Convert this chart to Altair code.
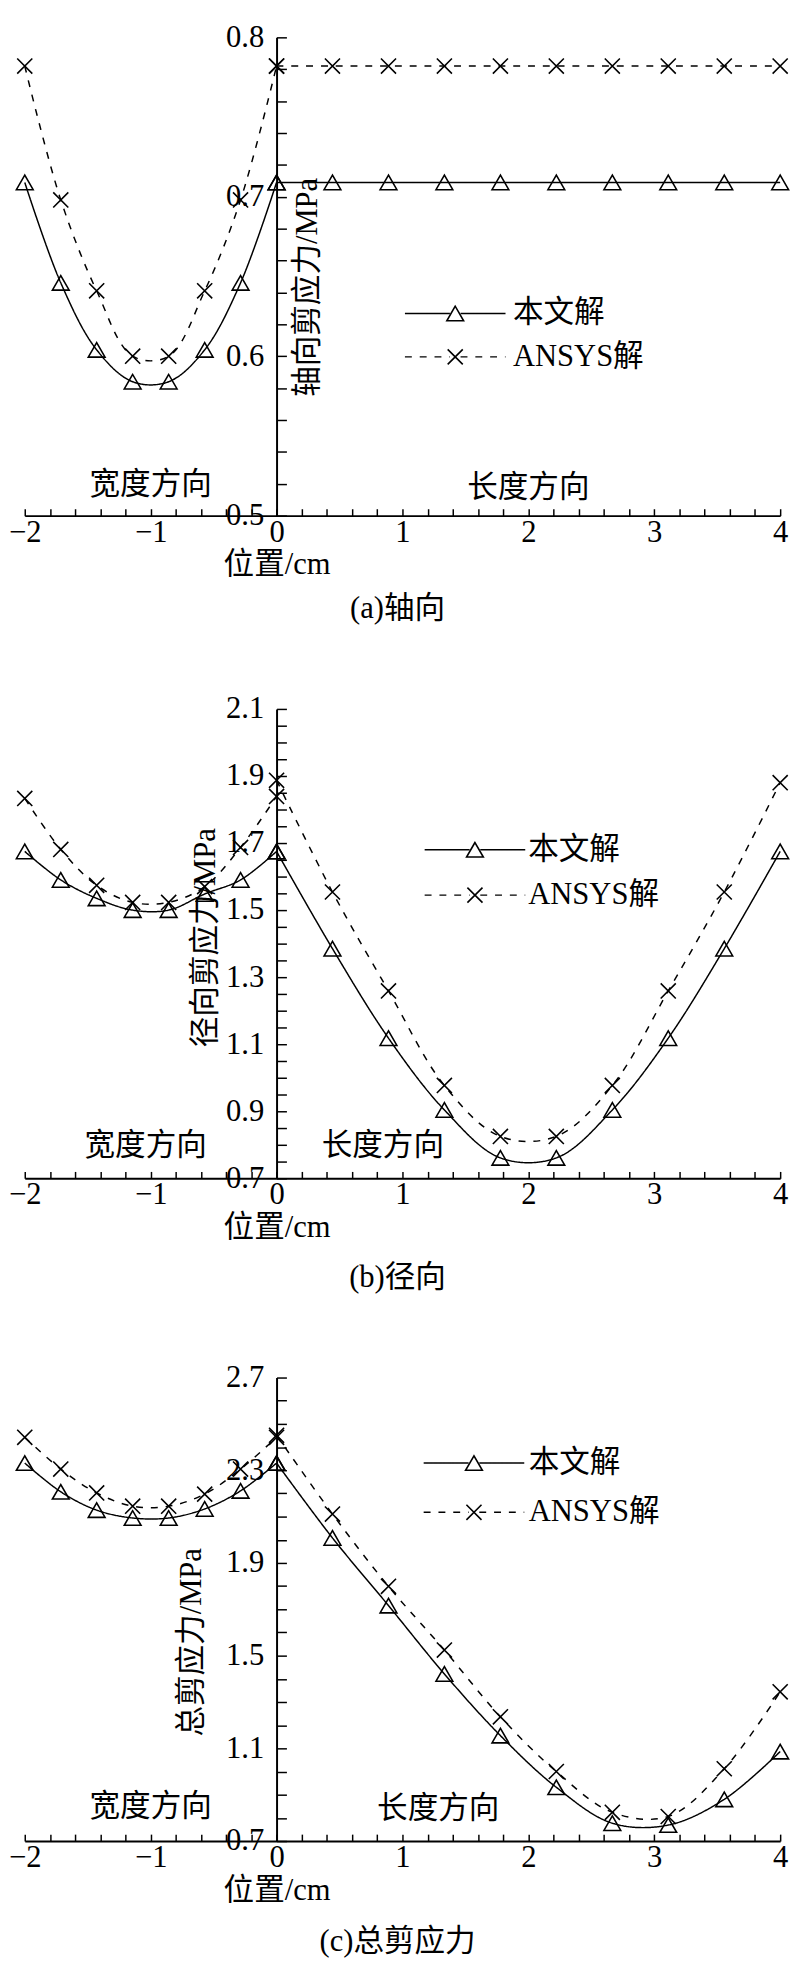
import altair as alt
import pandas as pd

FONT = "'Liberation Serif', 'Times New Roman', 'Noto Sans CJK SC', serif"
FS = 31
SERIES = ["本文解", "ANSYS解"]
# marker legend uses distinct keys so it is not merged with the line legend
MARKER_KEYS = ["本文解 ", "ANSYS解 "]

# positions along the two directions (cm)
X_WIDTH = [-2.0, -1.714, -1.429, -1.143, -0.857, -0.571, -0.286, 0.0]
X_LENGTH = [0.0, 0.444, 0.889, 1.333, 1.778, 2.222, 2.667, 3.111, 3.556, 4.0]

# (a) axial shear stress
A_OURS_W = [0.709, 0.646, 0.604, 0.584, 0.584, 0.604, 0.646, 0.709]
A_ANSYS_W = [0.782, 0.698, 0.641, 0.600, 0.600, 0.641, 0.698, 0.782]
A_OURS_L = [0.709, 0.709, 0.709, 0.709, 0.709, 0.709, 0.709, 0.709, 0.709, 0.709]
A_ANSYS_L = [0.782, 0.782, 0.782, 0.782, 0.782, 0.782, 0.782, 0.782, 0.782, 0.782]

# (b) radial shear stress
B_OURS_W = [1.675, 1.590, 1.535, 1.500, 1.500, 1.548, 1.590, 1.675]
B_ANSYS_W = [1.833, 1.681, 1.574, 1.523, 1.523, 1.570, 1.687, 1.839]
B_OURS_L = [1.675, 1.385, 1.118, 0.904, 0.761, 0.761, 0.904, 1.118, 1.385, 1.675]
B_ANSYS_L = [1.887, 1.554, 1.259, 0.977, 0.825, 0.825, 0.977, 1.259, 1.554, 1.880]

# (c) total shear stress
C_OURS_W = [2.331, 2.207, 2.128, 2.094, 2.094, 2.133, 2.211, 2.331]
C_ANSYS_W = [2.442, 2.305, 2.202, 2.145, 2.145, 2.197, 2.305, 2.442]
C_OURS_L = [2.331, 2.008, 1.716, 1.421, 1.155, 0.932, 0.777, 0.769, 0.880, 1.086]
C_ANSYS_L = [2.451, 2.111, 1.799, 1.524, 1.236, 1.000, 0.824, 0.806, 1.012, 1.344]

# tick labels
X_TICK_LABELS = [-2, -1, 0, 1, 2, 3, 4]
X_MINOR = [round(-2 + 0.2 * i, 1) for i in range(31)]
A_Y_LABELS = [0.5, 0.6, 0.7, 0.8]
B_Y_LABELS = [0.7, 0.9, 1.1, 1.3, 1.5, 1.7, 1.9, 2.1]
C_Y_LABELS = [0.7, 1.1, 1.5, 1.9, 2.3, 2.7]
A_Y_MINOR = [round(0.5 + 0.02 * i, 2) for i in range(16)]
B_Y_MINOR = [round(0.7 + 0.05 * i, 2) for i in range(29)]
C_Y_MINOR = [round(0.7 + 0.1 * i, 1) for i in range(21)]

# annotations
NOTE_TEXT = ["宽度方向", "长度方向"]
A_NOTE_X = [-1.0, 2.0]
A_NOTE_Y = [0.519, 0.517]
B_NOTE_X = [-1.04, 0.844]
B_NOTE_Y = [0.795, 0.795]
C_NOTE_X = [-1.0, 1.284]
C_NOTE_Y = [0.846, 0.837]

W = 766
X0 = W * 2 / 6
XPATH = "M-0.9,-0.9L0.9,0.9M0.9,-0.9L-0.9,0.9"
LEG_PATH = "M-8.5,0H-0.9M0.9,0H8.5"


def panel(ow, aw, ol, al, ydom, ylabels, yminor, ytitle, tdx, tdy, H,
          notes_x, notes_y, legx, legy, rowpad, laboff, caption, capoff):
    rows = []
    for seg, xs, yo, ya in (("W", X_WIDTH, ow, aw), ("L", X_LENGTH, ol, al)):
        for x, a, b in zip(xs, yo, ya):
            rows.append({"x": x, "y": a, "s": SERIES[0], "m": MARKER_KEYS[0], "seg": seg})
            rows.append({"x": x, "y": b, "s": SERIES[1], "m": MARKER_KEYS[1], "seg": seg})
    df = pd.DataFrame(rows)
    ndf = pd.DataFrame({"x": notes_x, "y": notes_y, "t": NOTE_TEXT})

    xscale = alt.Scale(domain=[-2, 4], nice=False, zero=False)
    yscale = alt.Scale(domain=ydom, nice=False, zero=False)

    x_label_axis = alt.Axis(
        orient="bottom", values=X_TICK_LABELS, format="d", ticks=False, tickSize=0,
        domain=False, grid=False, labelPadding=2, labelFlush=False, labelOverlap=False,
        title="位置/cm", titleX=X0, titleY=50, titleAlign="center", titleBaseline="middle",
    )
    x_tick_axis = alt.Axis(
        orient="top", offset=-H, values=X_MINOR, labels=False, ticks=True, tickSize=7,
        domain=True, grid=False, title=None,
    )
    y_label_axis = alt.Axis(
        orient="left", offset=-X0, values=ylabels, format=".1f", ticks=False, tickSize=0,
        domain=False, grid=False, labelPadding=13, labelFlush=False, labelOverlap=False,
        title=ytitle, titleX=tdx, titleY=tdy, titleAngle=270, titleAlign="center",
        titleBaseline="middle",
    )
    y_tick_axis = alt.Axis(
        orient="right", offset=-(W - X0), values=yminor, labels=False, ticks=True,
        tickSize=10, domain=True, grid=False, title=None,
    )

    leg_a = alt.Legend(
        orient="none", legendX=legx, legendY=legy, title=None, padding=0,
        symbolType=LEG_PATH, symbolSize=144, symbolStrokeWidth=1.5,
        symbolStrokeColor="black", symbolFillColor="transparent",
        labelFontSize=FS, labelOffset=laboff, rowPadding=rowpad,
    )
    leg_b = alt.Legend(
        orient="none", legendX=legx, legendY=legy, title=None, padding=0,
        symbolSize=289, symbolStrokeWidth=1.6, symbolStrokeColor="black",
        symbolFillColor="transparent", labelFontSize=FS, labelOffset=laboff,
        rowPadding=rowpad, labelOpacity=0,
    )

    line = alt.Chart(df).mark_line(interpolate="catmull-rom", strokeWidth=1.5, color="black").encode(
        x=alt.X("x:Q", scale=xscale, axis=x_label_axis),
        y=alt.Y("y:Q", scale=yscale, axis=y_label_axis),
        strokeDash=alt.StrokeDash("s:N", scale=alt.Scale(domain=SERIES, range=[[1, 0], [7, 8]]), legend=leg_a),
        detail="seg:N",
    )
    pts = alt.Chart(df).mark_point(filled=False, size=289, strokeWidth=1.6, color="black", opacity=1).encode(
        x=alt.X("x:Q", scale=xscale, axis=x_tick_axis),
        y=alt.Y("y:Q", scale=yscale, axis=y_tick_axis),
        shape=alt.Shape("m:N", scale=alt.Scale(domain=MARKER_KEYS, range=["triangle-up", XPATH]), legend=leg_b),
    )
    notes = alt.Chart(ndf).mark_text(font=FONT, fontSize=FS, color="black").encode(
        x=alt.X("x:Q", scale=xscale, axis=None),
        y=alt.Y("y:Q", scale=yscale, axis=None),
        text="t:N",
    )
    return alt.layer(line, pts, notes).resolve_axis(x="independent", y="independent").properties(
        width=W, height=H,
        title=alt.TitleParams(text=caption, orient="bottom", anchor="middle", frame="group",
                              offset=capoff, dx=-5, font=FONT, fontSize=FS,
                              fontWeight="normal", color="black"),
    )


pa = panel(A_OURS_W, A_ANSYS_W, A_OURS_L, A_ANSYS_L, [0.5, 0.8], A_Y_LABELS, A_Y_MINOR,
           "轴向剪应力/MPa", 31, 253, 485, A_NOTE_X, A_NOTE_Y, 421, 264.5, 12, 43, "(a)轴向", 15)
pb = panel(B_OURS_W, B_ANSYS_W, B_OURS_L, B_ANSYS_L, [0.7, 2.1], B_Y_LABELS, B_Y_MINOR,
           "径向剪应力/MPa", -72, 231.5, 476, B_NOTE_X, B_NOTE_Y, 441, 127.3, 14, 38.5, "(b)径向", 21)
pc = panel(C_OURS_W, C_ANSYS_W, C_OURS_L, C_ANSYS_L, [0.7, 2.7], C_Y_LABELS, C_Y_MINOR,
           "总剪应力/MPa", -86.5, 268, 470, C_NOTE_X, C_NOTE_Y, 440, 71.2, 18, 40, "(c)总剪应力", 22)

chart = alt.vconcat(pa, pb, pc, spacing=70).resolve_scale(
    x="independent", y="independent", strokeDash="independent", shape="independent"
).resolve_legend(strokeDash="independent", shape="independent").properties(
    padding=0
).configure_view(stroke=None).configure_axis(
    labelFont=FONT, labelFontSize=FS, labelColor="black",
    titleFont=FONT, titleFontSize=FS, titleFontWeight="normal", titleColor="black",
    domainColor="black", domainWidth=2, tickColor="black", tickWidth=1.5,
).configure_legend(labelFont=FONT, labelFontSize=FS, labelColor="black")

chart.save("out.html", embed_options={"renderer": "svg", "actions": False})
